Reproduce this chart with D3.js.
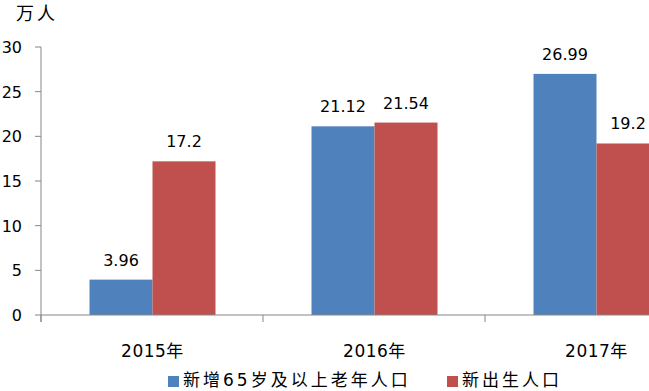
<!DOCTYPE html>
<html>
<head>
<meta charset="utf-8">
<script src="https://cdn.jsdelivr.net/npm/d3@7"></script>
<style>
  body { margin: 0; background: #fff; }
  text { font-family: "DejaVu Sans", "Noto Sans CJK SC", sans-serif; fill: #000; }
</style>
</head>
<body>
<svg id="mainsvg" width="649" height="391"></svg>
<script>
// data
const years = ['2015年', '2016年', '2017年'];
const seriesNames = ['新增65岁及以上老年人口', '新出生人口'];
const elderly = [3.96, 21.12, 26.99];
const births = [17.2, 21.54, 19.2];
const yTicks = [0, 5, 10, 15, 20, 25, 30];
const colors = ['#4f81bd', '#c0504d'];

const svg = d3.select('#mainsvg');
const axisColor = '#868686';

// plot area runs past the right edge, like the original
const x = d3.scaleBand().domain(years).range([41, 707]);
const y = d3.scaleLinear().domain([0, 30]).range([315, 47]);
const barW = 63;

const rows = years.map((yr, i) => ({ yr, vals: [elderly[i], births[i]] }));

// bars
const grp = svg.append('g');
rows.forEach(r => {
  const cx = x(r.yr) + x.bandwidth() / 2 + 0.5;
  r.vals.forEach((v, j) => {
    const bx = cx - barW + j * barW;
    grp.append('rect')
      .attr('x', bx).attr('y', y(v))
      .attr('width', barW).attr('height', y(0) - y(v))
      .attr('fill', colors[j]);
    grp.append('text')
      .attr('x', bx + barW / 2).attr('y', y(v) - 14)
      .attr('text-anchor', 'middle')
      .attr('font-size', 16)
      .text(v);
  });
});

// y axis
const yAxis = svg.append('g');
yAxis.append('line')
  .attr('x1', 41).attr('x2', 41).attr('y1', y(30)).attr('y2', 322)
  .attr('stroke', axisColor);
yTicks.forEach(t => {
  yAxis.append('line')
    .attr('x1', 35).attr('x2', 41).attr('y1', y(t)).attr('y2', y(t))
    .attr('stroke', axisColor);
  yAxis.append('text')
    .attr('x', 22).attr('y', y(t) + 6)
    .attr('text-anchor', 'end')
    .attr('font-size', 16)
    .text(t);
});

// x axis
const xAxis = svg.append('g');
xAxis.append('line')
  .attr('x1', 41).attr('x2', 707).attr('y1', y(0)).attr('y2', y(0))
  .attr('stroke', axisColor);
[0, 1, 2].forEach(i => {
  const tx = x.range()[0] + i * x.step();
  xAxis.append('line')
    .attr('x1', tx).attr('x2', tx).attr('y1', y(0)).attr('y2', 322)
    .attr('stroke', axisColor);
});
years.forEach(yr => {
  xAxis.append('text')
    .attr('x', x(yr) + x.bandwidth() / 2 + 0.5).attr('y', 357)
    .attr('text-anchor', 'middle')
    .attr('font-size', 17)
    .attr('letter-spacing', 0.5)
    .text(yr);
});

// unit label
svg.append('text')
  .attr('x', 16).attr('y', 20)
  .attr('font-size', 18)
  .attr('letter-spacing', 3)
  .text('万人');

// legend
const legendX = [168, 447];
seriesNames.forEach((name, j) => {
  svg.append('rect')
    .attr('x', legendX[j]).attr('y', 376)
    .attr('width', 11).attr('height', 11)
    .attr('fill', colors[j]);
  svg.append('text')
    .attr('x', legendX[j] + 15).attr('y', 386)
    .attr('font-size', 17)
    .attr('letter-spacing', 3)
    .text(name);
});
</script>
</body>
</html>
